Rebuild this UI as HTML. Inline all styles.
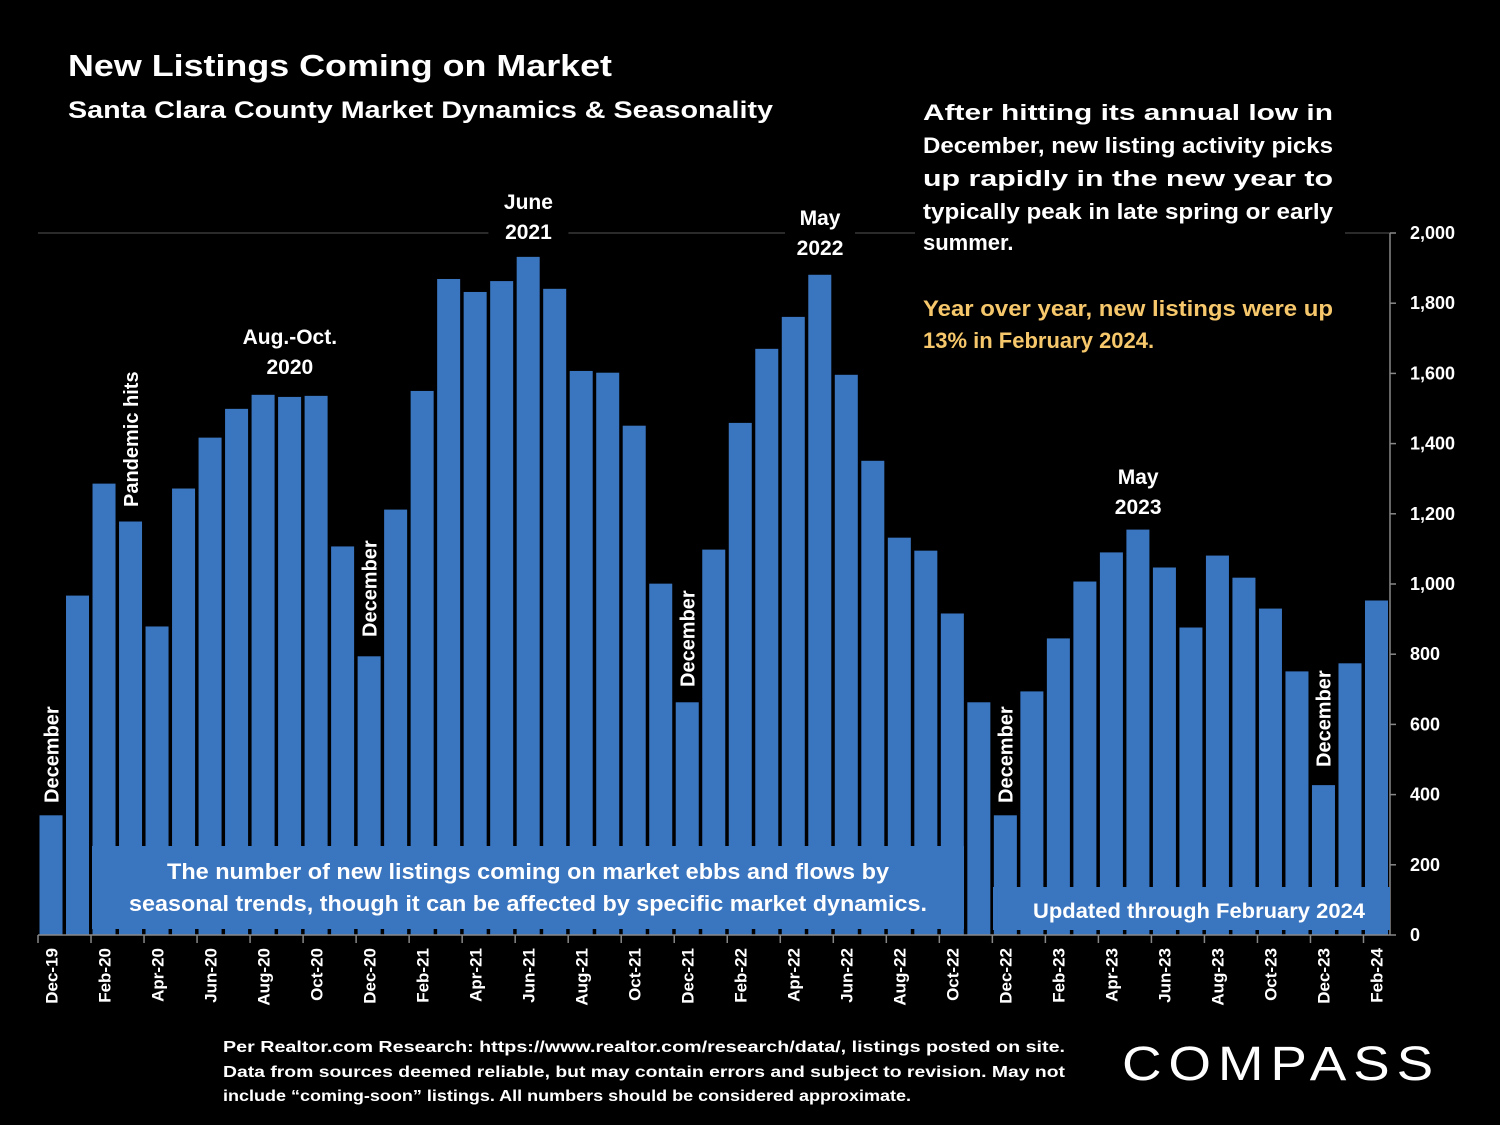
<!DOCTYPE html>
<html><head><meta charset="utf-8"><style>
html,body{margin:0;padding:0;background:#000;}
svg{display:block;font-family:"Liberation Sans",sans-serif;font-weight:bold;}
</style></head><body>
<svg id="chart" width="1500" height="1125" viewBox="0 0 1500 1125">
<rect width="1500" height="1125" fill="#000"/>
<text x="68" y="76" fill="#fff" font-size="31" textLength="544" lengthAdjust="spacingAndGlyphs">New Listings Coming on Market</text>
<text x="68" y="118" fill="#fff" font-size="24" textLength="705" lengthAdjust="spacingAndGlyphs">Santa Clara County Market Dynamics &amp; Seasonality</text>
<line x1="38" y1="233" x2="1390" y2="233" stroke="#555" stroke-width="1"/>
<g id="bars"></g>
<g id="annots"></g>
<g id="axes"></g>
<g fill="#fff" font-size="22">
<rect x="915" y="90" width="430" height="170" fill="#000"/>
<text x="923" y="120" textLength="410" lengthAdjust="spacingAndGlyphs">After hitting its annual low in</text>
<text x="923" y="153" textLength="410" lengthAdjust="spacingAndGlyphs">December, new listing activity picks</text>
<text x="923" y="186" textLength="410" lengthAdjust="spacingAndGlyphs">up rapidly in the new year to</text>
<text x="923" y="219" textLength="410" lengthAdjust="spacingAndGlyphs">typically peak in late spring or early</text>
<text x="923" y="250">summer.</text>
<rect x="915" y="290" width="430" height="65" fill="#000"/>
<text x="923" y="316" fill="#f7c86b" textLength="410" lengthAdjust="spacingAndGlyphs">Year over year, new listings were up</text>
<text x="923" y="348" fill="#f7c86b">13% in February 2024.</text>
</g>
<g>
<rect x="92" y="846" width="872" height="83" fill="#3a75c0"/>
<text x="528" y="879" fill="#fff" font-size="22" text-anchor="middle" textLength="722" lengthAdjust="spacingAndGlyphs">The number of new listings coming on market ebbs and flows by</text>
<text x="528" y="911" fill="#fff" font-size="22" text-anchor="middle" textLength="798" lengthAdjust="spacingAndGlyphs">seasonal trends, though it can be affected by specific market dynamics.</text>
</g>
<g>
<rect x="993" y="887" width="397" height="43" fill="#3a75c0"/>
<text x="1199" y="918" fill="#fff" font-size="21" text-anchor="middle" textLength="332" lengthAdjust="spacingAndGlyphs">Updated through February 2024</text>
</g>
<g fill="#fff" font-size="16">
<text x="223" y="1052" textLength="842" lengthAdjust="spacingAndGlyphs">Per Realtor.com Research:  https://www.realtor.com/research/data/, listings posted on site.</text>
<text x="223" y="1077" textLength="842" lengthAdjust="spacingAndGlyphs">Data from sources deemed reliable, but may contain errors and subject to revision. May not</text>
<text x="223" y="1101" textLength="688" lengthAdjust="spacingAndGlyphs">include “coming-soon” listings. All numbers should be considered approximate.</text>
</g>
<text x="1122" y="1080" fill="#fff" font-size="48" font-weight="normal" textLength="318" lengthAdjust="spacingAndGlyphs" letter-spacing="6">COMPASS</text>
</svg>
<script>
const months = ["Dec-19","Jan-20","Feb-20","Mar-20","Apr-20","May-20","Jun-20","Jul-20","Aug-20","Sep-20","Oct-20","Nov-20","Dec-20","Jan-21","Feb-21","Mar-21","Apr-21","May-21","Jun-21","Jul-21","Aug-21","Sep-21","Oct-21","Nov-21","Dec-21","Jan-22","Feb-22","Mar-22","Apr-22","May-22","Jun-22","Jul-22","Aug-22","Sep-22","Oct-22","Nov-22","Dec-22","Jan-23","Feb-23","Mar-23","Apr-23","May-23","Jun-23","Jul-23","Aug-23","Sep-23","Oct-23","Nov-23","Dec-23","Jan-24","Feb-24"];
const listings = [341,967,1286,1178,879,1272,1417,1499,1539,1533,1536,1107,794,1212,1550,1869,1832,1863,1932,1841,1607,1602,1451,1001,663,1098,1459,1670,1761,1881,1596,1351,1132,1095,916,663,341,694,845,1007,1090,1155,1047,876,1081,1018,930,751,427,774,953];
const yTicks = [0,200,400,600,800,1000,1200,1400,1600,1800,2000];
const yTickLabels = ["0","200","400","600","800","1,000","1,200","1,400","1,600","1,800","2,000"];
const NS="http://www.w3.org/2000/svg";
const X0=38, X1=1390, Y0=935, Y1=233, YMAX=2000;
const step=(X1-X0)/months.length;
function xScale(i){return X0+i*step;}
function yScale(v){return Y0-(v/YMAX)*(Y0-Y1);}
function mk(tag,attrs,parent){const e=document.createElementNS(NS,tag);for(const k in attrs)e.setAttribute(k,attrs[k]);parent.appendChild(e);return e;}
const bars=document.getElementById('bars');
listings.forEach((v,i)=>{
  const r=mk('rect',{x:xScale(i)+1.5,y:yScale(v),width:step-3.5,height:Y0-yScale(v),fill:'#3a75c0'},bars);
  
  
});
const axes=document.getElementById('axes');
const xa=mk('line',{x1:X0,y1:Y0,x2:X1,y2:Y0,stroke:'#888','stroke-width':1.5},axes);


const ya=mk('line',{x1:X1,y1:Y1,x2:X1,y2:Y0,stroke:'#888','stroke-width':1.5},axes);


yTicks.forEach((t,i)=>{
  const y=yScale(t);
  mk('line',{x1:X1,y1:y,x2:X1+6,y2:y,stroke:'#888','stroke-width':1.5},axes);
  const tx=mk('text',{x:1410,y:y+6,fill:'#fff','font-size':18},axes);
  tx.textContent=yTickLabels[i];
  
  
});
months.forEach((m,i)=>{
  if(i%2!==0) return;
  const x=xScale(i);
  mk('line',{x1:x,y1:Y0,x2:x,y2:Y0+8,stroke:'#888','stroke-width':1.5},axes);
  const cx=x+step/2+6;
  const tx=mk('text',{x:0,y:0,fill:'#fff','font-size':17,'text-anchor':'end',transform:`translate(${cx},948) rotate(-90)`},axes);
  tx.textContent=m;
  
  
});
const an=document.getElementById('annots');
function label(lines,i,y,w){
  const cx=xScale(i)+step/2;
  mk('rect',{x:cx-w/2,y:y-26,width:w,height:lines.length*30+4,fill:'#000'},an);
  lines.forEach((l,k)=>{
    const t=mk('text',{x:cx,y:y+k*30,fill:'#fff','font-size':21,'text-anchor':'middle'},an);
    t.textContent=l;
    
    
  });
}
label(["June","2021"],18,209,80);
label(["May","2022"],29,225,70);
label(["Aug.-Oct.","2020"],9,344,110);
label(["May","2023"],41,484,70);
function vlabel(txt,i,yBottom){
  const cx=xScale(i)+step/2+7;
  const t=mk('text',{x:0,y:0,fill:'#fff','font-size':20,transform:`translate(${cx},${yBottom}) rotate(-90)`},an);
  t.textContent=txt;
  
  
}
vlabel("December",0,803);
vlabel("Pandemic hits",3,507);
vlabel("December",12,637);
vlabel("December",24,687);
vlabel("December",36,803);
vlabel("December",48,767);
</script>
</body></html>
